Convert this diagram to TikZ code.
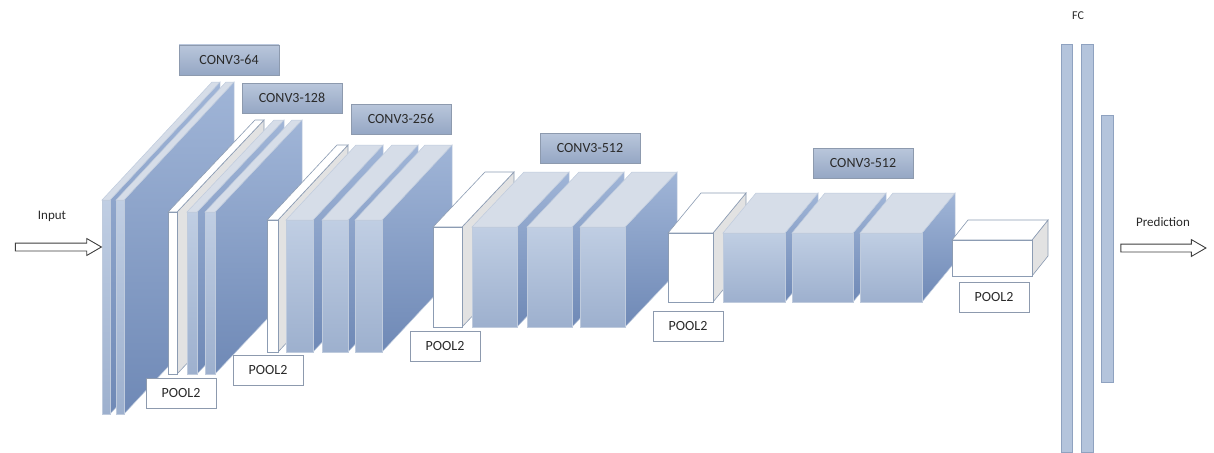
\documentclass[tikz,border=0pt]{standalone}
\usepackage{fontspec}
\setmainfont{Carlito}
\usetikzlibrary{shapes.arrows}

\definecolor{fronttop}{HTML}{C0CEE3}
\definecolor{frontbot}{HTML}{9DB0CE}
\definecolor{sidetop}{HTML}{A0B5D7}
\definecolor{sidebot}{HTML}{6F89B6}
\definecolor{topshade}{HTML}{D6DDE8}
\definecolor{slabedge}{HTML}{BFCBDD}
\definecolor{pooledge}{HTML}{8C9CB3}
\definecolor{poolgrey}{HTML}{E2E2E2}
\definecolor{labeltop}{HTML}{B9C6DB}
\definecolor{labelbot}{HTML}{95A7C4}
\definecolor{labeledge}{HTML}{8D9AAE}
\definecolor{txt}{HTML}{2A2A2A}
\definecolor{fcfill}{HTML}{B4C4DC}
\definecolor{fcedge}{HTML}{8FA2C0}

\tikzset{
  convfront/.style={top color=fronttop, bottom color=frontbot, draw=slabedge, line width=0.5pt},
  convside/.style={top color=sidetop, bottom color=sidebot, draw=slabedge, line width=0.5pt},
  convtop/.style={fill=topshade, draw=slabedge, line width=0.5pt},
  poolfront/.style={fill=white, draw=pooledge, line width=0.6pt},
  poolside/.style={fill=poolgrey, draw=pooledge, line width=0.6pt},
  pooltop/.style={fill=white, draw=pooledge, line width=0.6pt},
  convlabel/.style={draw=labeledge, top color=labeltop, bottom color=labelbot,
    minimum width=100pt, minimum height=30pt, inner sep=0pt, text=txt,
    font=\fontsize{14}{16}\selectfont},
  poollabel/.style={draw=labeledge, fill=white, minimum width=70pt,
    minimum height=30pt, inner sep=0pt, text=txt, font=\fontsize{14}{16}\selectfont},
  plaintext/.style={text=txt, inner sep=0pt, font=\fontsize{13}{15}\selectfont},
  fcbar/.style={fill=fcfill, draw=fcedge, line width=0.5pt},
  flowarrow/.style={single arrow, draw=black!75, fill=white, line width=0.9pt,
    inner sep=3.5pt, single arrow head extend=4.5pt, single arrow tip angle=60,
    minimum height=86pt}
}

% one slab: front x1 x2, front top, front bottom, depth dx dy, kind (conv/pool)
\newcommand{\layerslab}[7]{%
  \path[#7side] (#2,#3) -- ({#2+#5},{#3+#6}) -- ({#2+#5},{#4+#6}) -- (#2,#4) -- cycle;
  \path[#7top] (#1,#3) -- ({#1+#5},{#3+#6}) -- ({#2+#5},{#3+#6}) -- (#2,#3) -- cycle;
  \path[#7front] (#1,#3) rectangle (#2,#4);
}

\begin{document}
\begin{tikzpicture}[x=1pt, y=-1pt]
  \useasboundingbox (0,0) rectangle (1214,452);
  \fill[white] (0,0) rectangle (1214,452);

  % block 1: conv 64
  \layerslab{102}{110}{200}{414}{110}{-118}{conv}
  \layerslab{116}{124}{200}{414}{110}{-118}{conv}

  % block 2: pool + conv 128
  \layerslab{168}{177}{212}{374}{87}{-92}{pool}
  \layerslab{187}{197}{212}{374}{87}{-92}{conv}
  \layerslab{205}{215}{212}{374}{87}{-92}{conv}

  % block 3: pool + conv 256
  \layerslab{267}{278}{220}{352}{70}{-75}{pool}
  \layerslab{286}{313}{220}{352}{70}{-75}{conv}
  \layerslab{322}{348}{220}{352}{70}{-75}{conv}
  \layerslab{355}{382}{220}{352}{70}{-75}{conv}

  % block 4: pool + conv 512
  \layerslab{433}{462}{227}{327}{52}{-55}{pool}
  \layerslab{472}{517}{227}{327}{52}{-55}{conv}
  \layerslab{527}{572}{227}{327}{52}{-55}{conv}
  \layerslab{580}{625}{227}{327}{52}{-55}{conv}

  % block 5: pool + conv 512
  \layerslab{668}{713}{233}{302}{33}{-40}{pool}
  \layerslab{723}{785}{233}{302}{33}{-40}{conv}
  \layerslab{792}{853}{233}{302}{33}{-40}{conv}
  \layerslab{860}{922}{233}{302}{33}{-40}{conv}

  % final pooling
  \layerslab{952}{1032}{240}{276}{16}{-20}{pool}

  % fully connected layers
  \path[fcbar] (1061,44) rectangle (1072,452);
  \path[fcbar] (1081,44) rectangle (1093,452);
  \path[fcbar] (1101,115) rectangle (1113,382);
  \node[plaintext, font=\fontsize{12}{14}\selectfont] (fc) at (1078,16) {FC};

  % layer labels
  \node[convlabel] (c64)  at (229,60)  {CONV3-64};
  \node[convlabel] (c128) at (292,98)  {CONV3-128};
  \node[convlabel] (c256) at (401,119) {CONV3-256};
  \node[convlabel] (c512a) at (590,148) {CONV3-512};
  \node[convlabel] (c512b) at (863,163) {CONV3-512};

  \node[poollabel] (p1) at (181,393) {POOL2};
  \node[poollabel] (p2) at (268,370) {POOL2};
  \node[poollabel] (p3) at (445,346) {POOL2};
  \node[poollabel] (p4) at (688,326) {POOL2};
  \node[poollabel] (p5) at (994,297) {POOL2};

  % input and output
  \node[plaintext] (inlabel) at (52,216) {Input};
  \node[flowarrow] (inarrow) at (55,247) {};
  \node[plaintext] (outlabel) at (1163,222) {Prediction};
  \node[flowarrow, minimum height=85pt] (outarrow) at (1160,248) {};
\end{tikzpicture}
\end{document}
